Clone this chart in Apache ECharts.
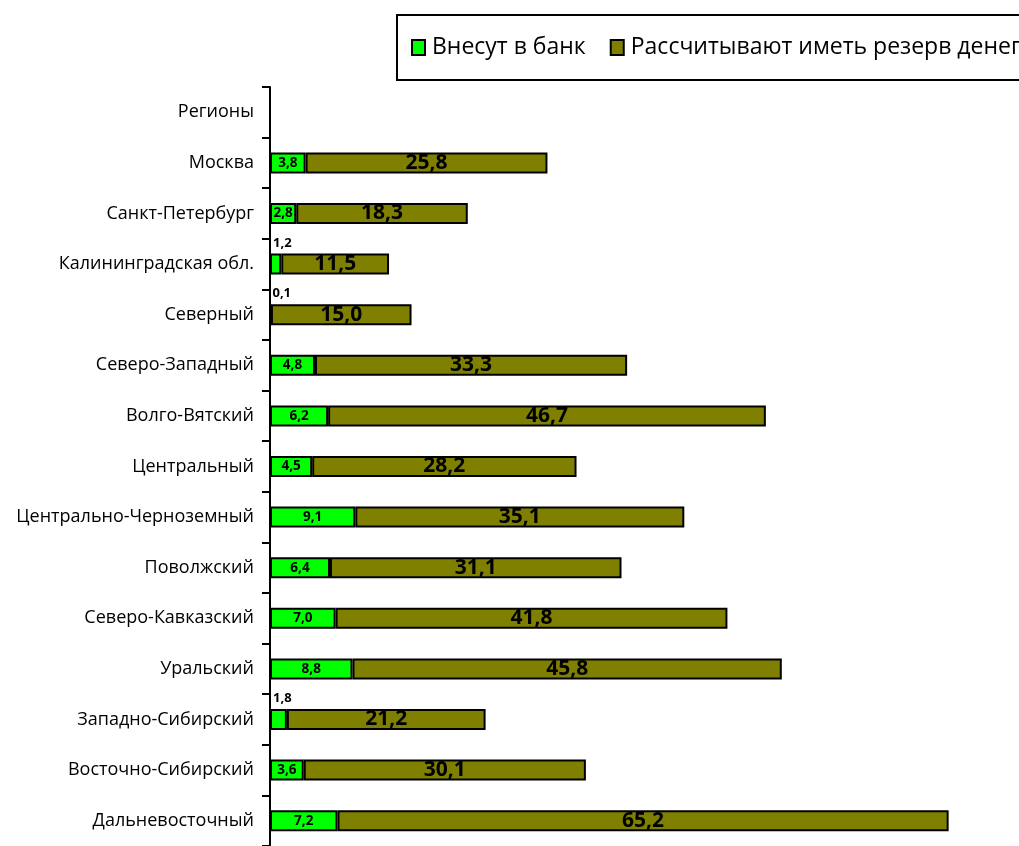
<!DOCTYPE html>
<html>
<head>
<meta charset="utf-8">
<script src="https://cdn.jsdelivr.net/npm/echarts@6/dist/echarts.min.js"></script>
<style>
  html, body {margin: 0; padding: 0; background: #fff;}
  #main {width: 1019px; height: 846px;}
</style>
</head>
<body>
<div id="main"></div>
<script>
// регионы (первая строка - заголовок, без данных)
const regions = ['Регионы', 'Москва', 'Санкт-Петербург', 'Калининградская обл.', 'Северный',
    'Северо-Западный', 'Волго-Вятский', 'Центральный', 'Центрально-Черноземный', 'Поволжский',
    'Северо-Кавказский', 'Уральский', 'Западно-Сибирский', 'Восточно-Сибирский', 'Дальневосточный'];
const bankValues = [null, 3.8, 2.8, 1.2, 0.1, 4.8, 6.2, 4.5, 9.1, 6.4, 7.0, 8.8, 1.8, 3.6, 7.2];
const reserveValues = [null, 25.8, 18.3, 11.5, 15.0, 33.3, 46.7, 28.2, 35.1, 31.1, 41.8, 45.8, 21.2, 30.1, 65.2];
const seriesNames = ['Внесут в банк', 'Рассчитывают иметь резерв денег'];

const font = '"Open Sans", sans-serif';
const fmt = p => p.value == null ? '' : p.value.toFixed(1).replace('.', ',');

// маленькие значения подписываем над столбиком
const bankData = bankValues.map(v => {
    if (v != null && v < 2) {
        return {value: v, label: {position: [3, -17], fontSize: 13}};
    }
    return v;
});

const chart = echarts.init(document.getElementById('main'));
let option = {
    animation: false,
    title: {
        text: 'Сбережения населения (в % от опрошенных), в том числе, рассчитывают иметь резерв денег',
        left: 0,
        top: -28,
        textStyle: {fontFamily: '"Liberation Serif", serif', fontSize: 24, fontWeight: 'bold', color: '#000'}
    },
    legend: {
        left: 397,
        top: 15,
        width: 800,
        padding: [21, 80, 21, 14],
        borderColor: '#000',
        borderWidth: 2,
        icon: 'rect',
        itemWidth: 13,
        itemHeight: 15,
        itemGap: 24,
        itemStyle: {borderColor: '#000', borderWidth: 2},
        textStyle: {fontFamily: font, fontSize: 23, color: '#000', padding: [0, 0, 0, 2]},
        data: seriesNames
    },
    grid: {left: 270, top: 87, width: 703, height: 765},
    xAxis: {
        type: 'value',
        min: 0,
        max: 75,
        show: false
    },
    yAxis: {
        type: 'category',
        inverse: true,
        data: regions,
        axisLine: {lineStyle: {color: '#000', width: 2}},
        axisTick: {show: true, length: 8, lineStyle: {color: '#000', width: 2}},
        axisLabel: {fontFamily: font, fontSize: 18, color: '#000', margin: 16}
    },
    series: [{
        name: seriesNames[0],
        type: 'bar',
        stack: 'total',
        barWidth: 21,
        data: bankData,
        itemStyle: {color: '#00ff00', borderColor: '#000', borderWidth: 2},
        label: {show: true, position: 'inside', formatter: fmt, fontFamily: font, fontSize: 13.5, fontWeight: 'bold', color: '#000'}
    }, {
        name: seriesNames[1],
        type: 'bar',
        stack: 'total',
        barWidth: 21,
        data: reserveValues,
        itemStyle: {color: '#808000', borderColor: '#000', borderWidth: 2},
        label: {show: true, position: 'inside', formatter: fmt, fontFamily: font, fontSize: 21, fontWeight: 'bold', color: '#000'}
    }]
};
chart.setOption(option);
</script>
</body>
</html>
